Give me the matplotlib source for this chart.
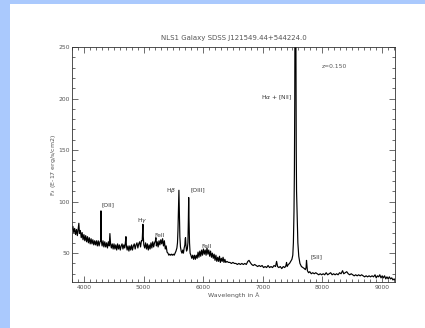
import matplotlib
matplotlib.use("Agg")
import matplotlib.pyplot as plt
from matplotlib.patches import Rectangle
from matplotlib.ticker import MultipleLocator

# ---- data ----
wavelength = [
    3800, 3815, 3830, 3845, 3860, 3875, 3890, 3905, 3915, 3925,
    3940, 3955, 3970, 3985, 4000, 4015, 4030, 4045, 4060, 4075,
    4090, 4105, 4120, 4135, 4150, 4165, 4180, 4195, 4210, 4225,
    4240, 4255, 4270, 4280, 4286, 4292, 4305, 4320, 4335, 4350,
    4365, 4380, 4395, 4410, 4425, 4436, 4447, 4460, 4475, 4490,
    4505, 4520, 4535, 4550, 4565, 4580, 4595, 4610, 4625, 4640,
    4655, 4670, 4685, 4697, 4705, 4713, 4725, 4740, 4755, 4770,
    4785, 4800, 4815, 4830, 4845, 4860, 4875, 4890, 4905, 4920,
    4935, 4950, 4965, 4978, 4984, 4990, 4996, 5005, 5020, 5035,
    5050, 5065, 5080, 5095, 5110, 5125, 5140, 5155, 5170, 5185,
    5200, 5208, 5216, 5230, 5245, 5260, 5275, 5290, 5305, 5320,
    5335, 5350, 5365, 5380, 5395, 5410, 5425, 5440, 5455, 5470,
    5485, 5500, 5515, 5530, 5545, 5560, 5570, 5578, 5586, 5594,
    5602, 5610, 5620, 5632, 5645, 5658, 5670, 5682, 5694, 5700,
    5705, 5712, 5722, 5735, 5745, 5752, 5758, 5764, 5772, 5782,
    5795, 5810, 5825, 5840, 5855, 5870, 5885, 5900, 5915, 5930,
    5945, 5960, 5975, 5990, 6005, 6020, 6035, 6050, 6065, 6080,
    6095, 6110, 6125, 6140, 6155, 6170, 6185, 6200, 6215, 6230,
    6245, 6260, 6275, 6290, 6305, 6320, 6335, 6350, 6365, 6380,
    6400, 6425, 6450, 6475, 6500, 6525, 6550, 6575, 6600, 6625,
    6650, 6675, 6700, 6725, 6750, 6770, 6790, 6815, 6840, 6865,
    6890, 6915, 6940, 6965, 6990, 7015, 7040, 7065, 7090, 7115,
    7140, 7165, 7190, 7215, 7233, 7250, 7270, 7295, 7320, 7345,
    7370, 7390, 7400, 7410, 7430, 7450, 7470, 7490, 7505, 7515,
    7525, 7532, 7538, 7543, 7548, 7553, 7558, 7563, 7568, 7573,
    7580, 7590, 7605, 7625, 7650, 7675, 7700, 7715, 7728, 7735,
    7742, 7750, 7770, 7790, 7815, 7840, 7865, 7890, 7915, 7940,
    7965, 7990, 8015, 8040, 8065, 8090, 8115, 8140, 8165, 8190,
    8215, 8240, 8265, 8290, 8315, 8340, 8360, 8385, 8410, 8435,
    8460, 8485, 8510, 8535, 8560, 8585, 8610, 8635, 8660, 8685,
    8710, 8735, 8760, 8785, 8810, 8835, 8860, 8885, 8905, 8925,
    8945, 8965, 8985, 9005, 9025, 9045, 9065, 9085, 9105, 9125,
    9145, 9165, 9185, 9205, 9220,
]
flux = [
    73, 76, 70, 74, 68, 73, 67, 74, 79, 69,
    72, 65, 70, 63, 68, 62, 67, 61, 66, 60,
    65, 59, 64, 59, 63, 58, 62, 58, 62, 57,
    62, 57, 61, 62, 91, 62, 57, 62, 56, 61,
    56, 60, 55, 61, 57, 69, 59, 55, 59, 54,
    59, 54, 58, 53, 59, 54, 58, 53, 57, 59,
    54, 58, 55, 61, 66, 57, 53, 57, 52, 57,
    53, 58, 53, 57, 59, 54, 58, 60, 55, 59,
    61, 56, 62, 62, 70, 78, 66, 58, 55, 60,
    54, 59, 53, 58, 54, 60, 55, 61, 56, 60,
    62, 65, 57, 61, 56, 62, 58, 63, 59, 64,
    57, 62, 54, 57, 51, 50, 48, 49, 48, 49,
    48, 49, 48, 50, 52, 55, 60, 72, 92, 111,
    88, 66, 56, 52, 50, 53, 50, 55, 58, 64,
    65, 58, 52, 54, 60, 80, 104, 82, 60, 50,
    48, 45, 48, 44, 48, 44, 48, 45, 51, 46,
    52, 47, 53, 48, 54, 49, 53, 48, 55, 49,
    53, 47, 52, 46, 50, 45, 49, 43, 48, 42,
    46, 42, 47, 41, 45, 42, 46, 41, 44, 41,
    42, 41, 41, 40, 41, 40, 40, 39, 40, 39,
    40, 39, 40, 39, 42, 43, 41, 39, 38, 39,
    38, 37, 38, 37, 38, 36, 37, 36, 38, 36,
    37, 36, 38, 37, 42, 37, 36, 37, 35, 37,
    36, 38, 41, 37, 39, 40, 42, 44, 48, 60,
    90, 130, 200, 320, 520, 350, 230, 150, 110, 98,
    80, 60, 47, 40, 37, 36, 35, 34, 36, 43,
    38, 33, 31, 32, 30, 31, 30, 31, 30, 29,
    30, 29, 30, 29, 31, 29, 30, 31, 29, 30,
    29, 30, 29, 31, 30, 33, 30, 31, 32, 30,
    29, 30, 29, 28, 29, 28, 29, 28, 29, 28,
    27, 28, 27, 28, 27, 28, 27, 29, 26, 28,
    27, 29, 26, 28, 26, 28, 25, 27, 25, 27,
    25, 26, 24, 25, 24,
]
assert len(wavelength) == len(flux)

line_labels = ["[OII]", "H$\\gamma$", "FeII", "H$\\beta$", "[OIII]", "FeII",
               "H$\\alpha$ + [NII]", "[SII]"]
label_x = [4403, 4973, 5275, 5468, 5913, 6064, 7507, 7901]
label_y = [96.6, 82, 67.5, 111, 111, 56.8, 200.5, 46]
label_ha = ["center", "center", "center", "center", "center", "center", "right", "center"]

title = "NLS1 Galaxy SDSS J121549.44+544224.0"
redshift_text = "z=0.150"
x_ticks = [4000, 5000, 6000, 7000, 8000, 9000]
y_ticks = [50, 100, 150, 200, 250]

# ---- figure ----
W, H = 425, 328
fig = plt.figure(figsize=(W / 100, H / 100), dpi=100)
fig.patch.set_facecolor("white")
blue = "#aac9fd"
fig.patches.append(Rectangle((0, 0), 10 / W, 1, transform=fig.transFigure,
                             facecolor=blue, edgecolor="none", zorder=-10))
fig.patches.append(Rectangle((0, 1 - 4 / H), 1, 4 / H, transform=fig.transFigure,
                             facecolor=blue, edgecolor="none", zorder=-10))

ax = fig.add_axes([72 / W, 1 - 282 / H, (395 - 72) / W, (282 - 47) / H])
ax.plot(wavelength, flux, color="black", lw=0.85)
ax.set_xlim(3800, 9220)
ax.set_ylim(22, 250)

tc = "#555555"
ax.set_xticks(x_ticks)
ax.set_yticks(y_ticks)
ax.xaxis.set_minor_locator(MultipleLocator(100))
ax.yaxis.set_minor_locator(MultipleLocator(10))
ax.tick_params(which="both", direction="in", top=True, right=True,
               width=0.5, color="#333333", labelcolor=tc, labelsize=4.3)
ax.tick_params(which="major", length=4)
ax.tick_params(which="minor", length=2)
ax.tick_params(axis="x", pad=2.5)
ax.tick_params(axis="y", pad=1.5)
for s in ax.spines.values():
    s.set_linewidth(0.6)
    s.set_color("#333333")

ax.set_xlabel("Wavelength in Å", fontsize=4.5, color=tc, labelpad=1.5)
fig.text(54 / W, 1 - 164.5 / H, "F$_\\lambda$ (E-17 erg/s/cm2)", rotation=90,
         fontsize=4.5, color=tc, ha="center", va="center")
fig.text(233.5 / W, 1 - 38 / H, title, fontsize=5, color=tc,
         ha="center", va="center")

ax.text(7993, 231.5, redshift_text, fontsize=4.3, color=tc, ha="left", va="center")
for t, x, y, ha in zip(line_labels, label_x, label_y, label_ha):
    ax.text(x, y, t, fontsize=4.3, color="#333333", ha=ha, va="center")

fig.savefig("out.png", dpi=100, facecolor=fig.get_facecolor())
